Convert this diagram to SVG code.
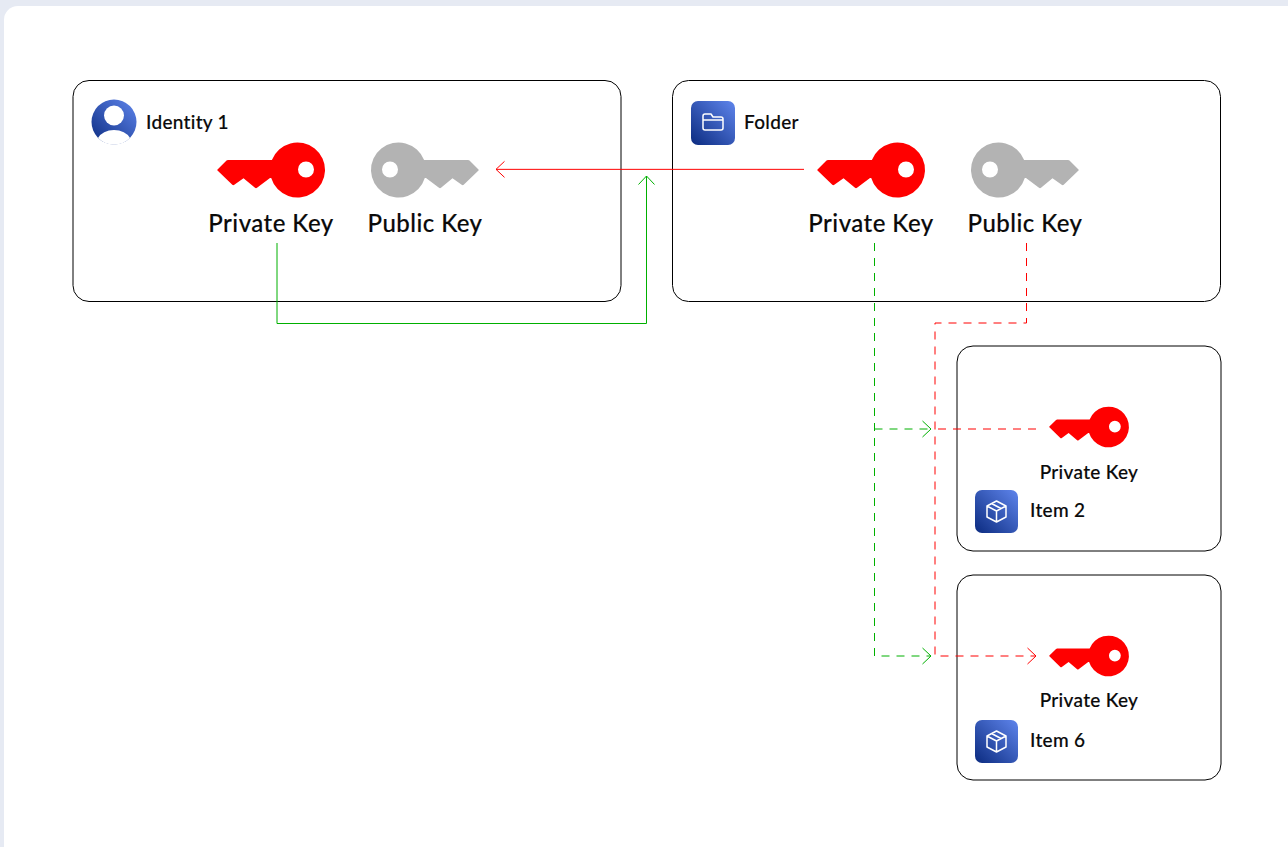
<svg xmlns="http://www.w3.org/2000/svg" width="1288" height="847" viewBox="0 0 1288 847">
<style>
.box{fill:#fff;stroke:#000;stroke-width:1}
text{font-family:"Lato","Liberation Sans",sans-serif;fill:#0a0a0a;font-weight:500;stroke:#0a0a0a;stroke-width:.15}
.big{font-size:24px;text-anchor:middle;letter-spacing:.45px}
.mid{font-size:19px;letter-spacing:.3px}
.small{font-size:19px;text-anchor:middle;letter-spacing:.3px}
.c{fill:none;stroke-width:1}
.g{stroke:#00b000}
.r{stroke:#ff0000}
.d{stroke-dasharray:8 7}
.ic{fill:none;stroke:#fff;stroke-width:1.5;stroke-linejoin:round}
</style>
<defs>
<linearGradient id="grad" x1="0" y1="1" x2="1" y2="0"><stop offset="0" stop-color="#0b2b80"/><stop offset="1" stop-color="#5f85ec"/></linearGradient>
<marker id="ag" markerWidth="14" markerHeight="18" refX="12" refY="9" orient="auto" markerUnits="userSpaceOnUse"><path d="M3.500 1L12 9L3.500 17" fill="none" stroke="#00b000"/></marker>
<marker id="ar" markerWidth="14" markerHeight="18" refX="12" refY="9" orient="auto" markerUnits="userSpaceOnUse"><path d="M3.500 1L12 9L3.500 17" fill="none" stroke="#ff0000"/></marker>
<path id="key" fill-rule="evenodd" d="M.5 27.500Q0 27 .5 26.500L9.500 17.500Q10 17 11 17H53L54.900 17A27.500 27.500 0 1 1 54.200 35H53L40 44.800Q39 45.500 38 44.800L26.500 35.300L17.300 41.800Q16.300 42.500 15.300 41.800ZM97 26.500a8 8 0 1 0 -16 0a8 8 0 1 0 16 0Z"/>
</defs>
<rect width="1288" height="847" fill="#e6eaf3"/>
<rect x="4" y="6" width="1300" height="860" rx="14" fill="#fff"/>

<g id="identity-1">
<rect class="box" x="73" y="80.500" width="548" height="221" rx="16"/>
<circle cx="114" cy="122" r="22.500" fill="url(#grad)"/>
<circle cx="114" cy="115.500" r="10" fill="#fff"/>
<path d="M98 138A17 12 0 0 1 130 138A22.500 22.500 0 0 1 98 138Z" fill="#fff"/>
<text class="mid" x="146" y="129">Identity 1</text>
<use href="#key" x="217" y="143" fill="#ff0000"/>
<use href="#key" transform="translate(479 143) scale(-1 1)" fill="#b3b3b3"/>
<text class="big" x="271" y="231.500">Private Key</text>
<text class="big" x="425" y="231.500">Public Key</text>
</g>

<g id="folder">
<rect class="box" x="672.500" y="80.500" width="548" height="221" rx="16"/>
<rect x="691" y="101" width="44" height="44" rx="7" fill="url(#grad)"/>
<path class="ic" d="M703 128V116A2 2 0 0 1 705 114H711L713 117H721A2 2 0 0 1 723 119V128A2 2 0 0 1 721 130H705A2 2 0 0 1 703 128ZM703 120H723"/>
<text class="mid" x="744" y="129">Folder</text>
<use href="#key" x="817" y="143" fill="#ff0000"/>
<use href="#key" transform="translate(1079 143) scale(-1 1)" fill="#b3b3b3"/>
<text class="big" x="871" y="231.500">Private Key</text>
<text class="big" x="1025" y="231.500">Public Key</text>
</g>

<g id="item-2">
<rect class="box" x="957" y="346" width="264" height="205" rx="16"/>
<use href="#key" transform="translate(1049 407) scale(0.74)" fill="#ff0000"/>
<text class="small" x="1089" y="479">Private Key</text>
<rect x="975" y="490" width="43" height="43" rx="7" fill="url(#grad)"/>
<path class="ic" d="M996.500 501L1006 506V517L996.500 522L987 517V506ZM987 506L996.500 511L1006 506M996.500 511V522M991.500 503.500L1001 508.500"/>
<text class="mid" x="1030" y="517">Item 2</text>
</g>

<g id="item-6">
<rect class="box" x="957" y="575" width="264" height="205" rx="16"/>
<use href="#key" transform="translate(1049 636) scale(0.74)" fill="#ff0000"/>
<text class="small" x="1089" y="707">Private Key</text>
<rect x="975" y="720" width="43" height="43" rx="7" fill="url(#grad)"/>
<path class="ic" d="M996.500 731L1006 736V747L996.500 752L987 747V736ZM987 736L996.500 741L1006 736M996.500 741V752M991.500 733.500L1001 738.500"/>
<text class="mid" x="1030" y="747">Item 6</text>
</g>

<g id="connectors">
<path class="c r" d="M804 169.350H496" marker-end="url(#ar)"/>
<path class="c g" d="M277 243V323.500H646.500V176" marker-end="url(#ag)"/>
<path class="c g d" d="M874.500 243V656H931" marker-end="url(#ag)"/>
<path class="c g d" d="M874.500 429H931" marker-end="url(#ag)"/>
<path class="c r d" d="M1026.500 243V323H935V656H1036" marker-end="url(#ar)"/>
<path class="c r d" d="M1036 429H935"/>
</g>
</svg>
